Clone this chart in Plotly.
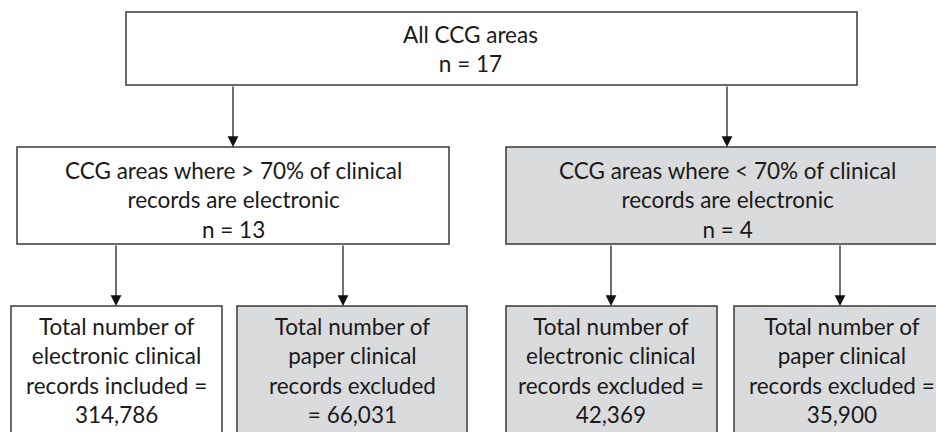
import plotly.graph_objects as go

# Node texts
node_texts = [
    "All CCG areas<br>n = 17",
    "CCG areas where > 70% of clinical<br>records are electronic<br>n = 13",
    "CCG areas where < 70% of clinical<br>records are electronic<br>n = 4",
    "Total number of<br>electronic clinical<br>records included =<br>314,786",
    "Total number of<br>paper clinical<br>records excluded<br>= 66,031",
    "Total number of<br>electronic clinical<br>records excluded =<br>42,369",
    "Total number of<br>paper clinical<br>records excluded =<br>35,900",
]
node_shaded = [False, False, True, False, True, True, True]
# edges: (from, to)
edges = [(0, 1), (0, 2), (1, 3), (1, 4), (2, 5), (2, 6)]

# Layout geometry (pixels)
box_x0 = [126, 17, 506, 11, 237, 506, 734]
box_x1 = [857, 449, 950, 222, 467, 717, 950]
box_y0 = [12, 147, 147, 306, 306, 306, 306]
box_y1 = [85, 244, 244, 445, 445, 445, 445]
text_y = [49, 200, 200, 370, 370, 370, 370]
text_x = [470, 233, 727, 116, 352, 611, 842]
edge_x = [233, 727, 116, 343, 611, 840]

FILL = "#dadbdd"
EDGE = "#3a3a3a"

fig = go.Figure()
fig.add_trace(go.Scatter(x=[0, 936], y=[0, 432], mode="markers",
                         marker=dict(opacity=0), hoverinfo="skip", showlegend=False))

shapes = []
annotations = []
for i, t in enumerate(node_texts):
    shapes.append(dict(type="rect", xref="x", yref="y",
                       x0=box_x0[i], x1=box_x1[i], y0=box_y0[i], y1=box_y1[i],
                       line=dict(color=EDGE, width=1.5),
                       fillcolor=FILL if node_shaded[i] else "white", layer="below"))
    annotations.append(dict(x=text_x[i], y=text_y[i], xref="x", yref="y",
                            text=t, showarrow=False, align="center",
                            font=dict(family="Lato", size=22.5, color="#1a1a1a")))

for k, (a, b) in enumerate(edges):
    annotations.append(dict(x=edge_x[k], y=box_y0[b], xref="x", yref="y",
                            ax=edge_x[k], ay=box_y1[a], axref="x", ayref="y",
                            text="", showarrow=True, arrowhead=2, arrowsize=1.8,
                            arrowwidth=1.2, arrowcolor="#111", standoff=0))

fig.update_layout(
    width=936, height=432,
    margin=dict(l=0, r=0, t=0, b=0),
    paper_bgcolor="white", plot_bgcolor="white",
    xaxis=dict(range=[0, 936], visible=False, fixedrange=True),
    yaxis=dict(range=[432, 0], visible=False, fixedrange=True),
    shapes=shapes, annotations=annotations,
)
fig.write_html("out.html", config={"displayModeBar": False},
               post_script="document.body.style.margin='0';document.body.style.overflow='hidden';")
